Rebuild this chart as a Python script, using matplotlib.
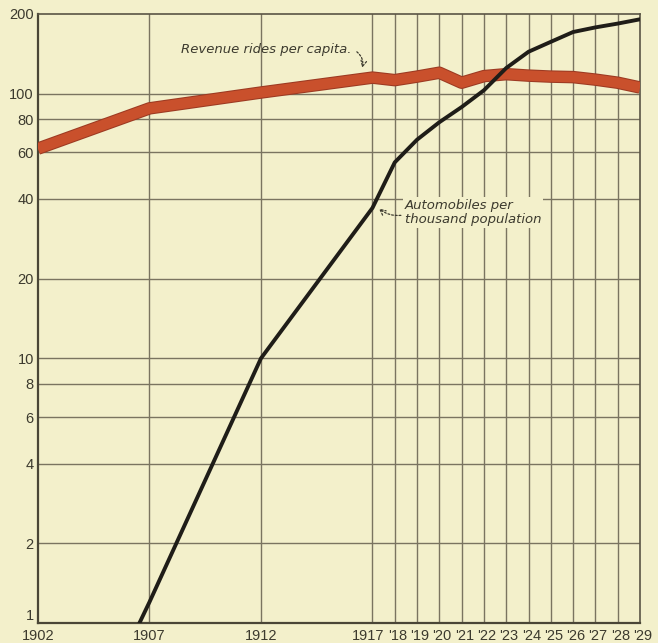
import matplotlib.pyplot as plt
import matplotlib.patheffects as pe
from matplotlib.transforms import ScaledTranslation

# revenue rides per capita (ratio scale)
ride_years = [1902, 1907, 1912, 1917, 1918, 1919, 1920, 1921, 1922, 1923,
              1924, 1925, 1926, 1927, 1928, 1929]
rides_per_capita = [62, 88, 101, 115, 112.5, 116, 120, 110, 116.5, 118.5,
                    117, 116, 115.5, 113, 110, 105.5]

# automobiles per thousand population
auto_years = [1906, 1907, 1912, 1917, 1918, 1919, 1920, 1921, 1922, 1923,
              1924, 1925, 1926, 1927, 1928, 1929]
autos_per_thousand = [0.8, 1.2, 10, 37, 55, 67, 78, 89, 103, 125,
                      144, 157, 171, 178, 184, 191]

y_ticks = [1, 2, 4, 6, 8, 10, 20, 40, 60, 80, 100, 200]
x_ticks = [1902, 1907, 1912] + list(range(1917, 1930))
x_labels = ['1902', '1907', '1912', '1917'] + ["'%d" % (y % 100) for y in range(1918, 1930)]

paper = '#f3f0cb'
ink = '#3c3a2e'
grid_col = '#7a7460'

label_font = ['Liberation Sans', 'DejaVu Sans']
note_font = ['DejaVu Sans']

fig = plt.figure(figsize=(6.58, 6.43), dpi=100, facecolor=paper)
ax = fig.add_axes([38 / 658, 20 / 643, 602 / 658, 609 / 643])
ax.set_facecolor(paper)

ax.set_yscale('log')
ax.set_xlim(1902, 1929)
ax.set_ylim(1, 200)

# grid drawn by hand so the lines sit under the curves
for x in x_ticks[1:-1]:
    ax.axvline(x, color=grid_col, lw=1.0, zorder=1)
for y in y_ticks[1:-1]:
    ax.axhline(y, color=grid_col, lw=1.0, zorder=1)

ax.plot(ride_years, rides_per_capita, color='#c9502c', lw=7.5, solid_capstyle='butt',
        solid_joinstyle='round', zorder=3,
        path_effects=[pe.Stroke(linewidth=9, foreground='#9c3a22'), pe.Normal()])
ax.plot(auto_years, autos_per_thousand, color='#1f1d18', lw=2.8,
        solid_joinstyle='round', zorder=4)

# y labels: the bottom "1" sits just above the axis line
ax.set_yticks(y_ticks)
ax.set_yticklabels([str(v) for v in y_ticks])
ax.minorticks_off()
ax.tick_params(length=0, labelcolor=ink)
ax.tick_params(axis='y', pad=3)
for lab in ax.get_yticklabels():
    lab.set_family(label_font)
    lab.set_fontsize(10.5)
ax.get_yticklabels()[0].set_verticalalignment('bottom')

# x labels placed as text so each one can be nudged a little
ax.set_xticks([])
xform = ax.get_xaxis_transform()
for x, lab in zip(x_ticks, x_labels):
    dx = 2 if lab.startswith("'") else 0
    if lab == '1917':
        dx = -3
    off = ScaledTranslation(dx / 72, -4 / 72, fig.dpi_scale_trans)
    ax.text(x, 0, lab, transform=xform + off, ha='center', va='top',
            fontsize=10.5, family=label_font, color=ink)

for side in ['left', 'bottom']:
    ax.spines[side].set_color('#4a4636')
    ax.spines[side].set_linewidth(1.6)
for side in ['top', 'right']:
    ax.spines[side].set_color('#5a5545')
    ax.spines[side].set_linewidth(1.2)

# labels with dotted leader arrows
ax.text(1916.05, 147, 'Revenue rides per capita.', ha='right', va='center',
        fontsize=9.5, style='italic', family=note_font, color=ink, zorder=5)
ax.annotate('', xy=(1916.5, 122.5), xytext=(1916.2, 146),
            arrowprops=dict(arrowstyle='->', color=ink, lw=0.9, linestyle=(0, (1.5, 1.5)),
                            connectionstyle='arc3,rad=-0.4'), zorder=5)

ax.text(1918.45, 35.6, 'Automobiles per\nthousand population', ha='left', va='center',
        fontsize=9.5, style='italic', family=note_font, color=ink, linespacing=1.1,
        bbox=dict(facecolor=paper, edgecolor='none', pad=1.5), zorder=5)
ax.annotate('', xy=(1917.2, 37.4), xytext=(1918.4, 34.8),
            arrowprops=dict(arrowstyle='->', color=ink, lw=0.9, linestyle=(0, (1.5, 1.5)),
                            connectionstyle='arc3,rad=-0.25'), zorder=5)

fig.savefig('out.png', dpi=100, facecolor=paper)
